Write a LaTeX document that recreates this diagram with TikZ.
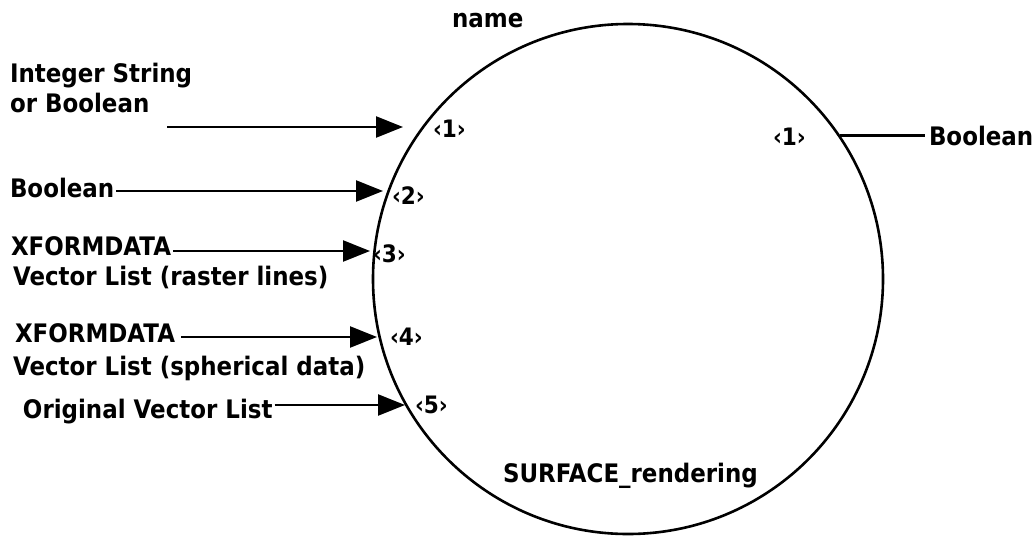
\documentclass[tikz,border=0pt]{standalone}
\usepackage{fontspec}
\setmainfont{DejaVu Sans}[FakeStretch=0.9]
\usetikzlibrary{arrows.meta}
\begin{document}
\begin{tikzpicture}[x=1pt,y=-1pt,
  txt/.style={anchor=base west,inner sep=0pt,outer sep=0pt,font=\bfseries\fontsize{25.5}{30}\selectfont},
  port/.style={anchor=base west,inner sep=0pt,outer sep=0pt,font=\bfseries\fontsize{24}{28}\selectfont},
  conn/.style={line width=2.4pt},
  inarrow/.style={conn,-{Triangle[length=27pt,width=21pt]}}]
\useasboundingbox (0,0) rectangle (1036,536);
\node[circle,draw,line width=2.6pt,minimum size=510pt,inner sep=0pt] (c) at (628,279) {};
% texts
\node[txt,align=left] (intS) at (10,112) {Integer String\\or Boolean};
\node[txt] (boolL) at (10,197) {Boolean};
\node[txt] (xf1) at (11,255) {XFORMDATA};
\node[txt] (vl1) at (13,285) {Vector List (raster lines)};
\node[txt] (xf2) at (15,342) {XFORMDATA};
\node[txt] (vl2) at (13,375) {Vector List (spherical data)};
\node[txt] (orig) at (23,418) {Original Vector List};
\node[txt] (name) at (452,27) {name};
\node[txt] (surf) at (503,482) {SURFACE\_rendering};
\node[txt] (outB) at (929,145) {Boolean};
% ports
\node[port] (p1) at (433,137) {‹1›};
\node[port] (p2) at (392,204) {‹2›};
\node[port] (p3) at (373,262) {‹3›};
\node[port] (p4) at (390,345) {‹4›};
\node[port] (p5) at (415,413) {‹5›};
\node[port] (q1) at (773,145) {‹1›};
% arrow ends
\coordinate (s1) at (167,127);
\coordinate (t1) at (403,127);
\coordinate (t2) at (383,191);
\coordinate (t3) at (370,251);
\coordinate (t4) at (377,337);
\coordinate (t5) at (405,405);
% connectors
\draw[inarrow] (s1) -- (t1);
\draw[inarrow] ([xshift=2pt]boolL.east |- t2) -- (t2);
\draw[inarrow] ([xshift=2pt]xf1.east |- t3) -- (t3);
\draw[inarrow] ([xshift=6pt]xf2.east |- t4) -- (t4);
\draw[inarrow] ([xshift=2pt]orig.east |- t5) -- (t5);
\draw[conn] (c.34.4) -- ([xshift=-4pt]outB.west |- c.34.4);
\end{tikzpicture}
\end{document}
